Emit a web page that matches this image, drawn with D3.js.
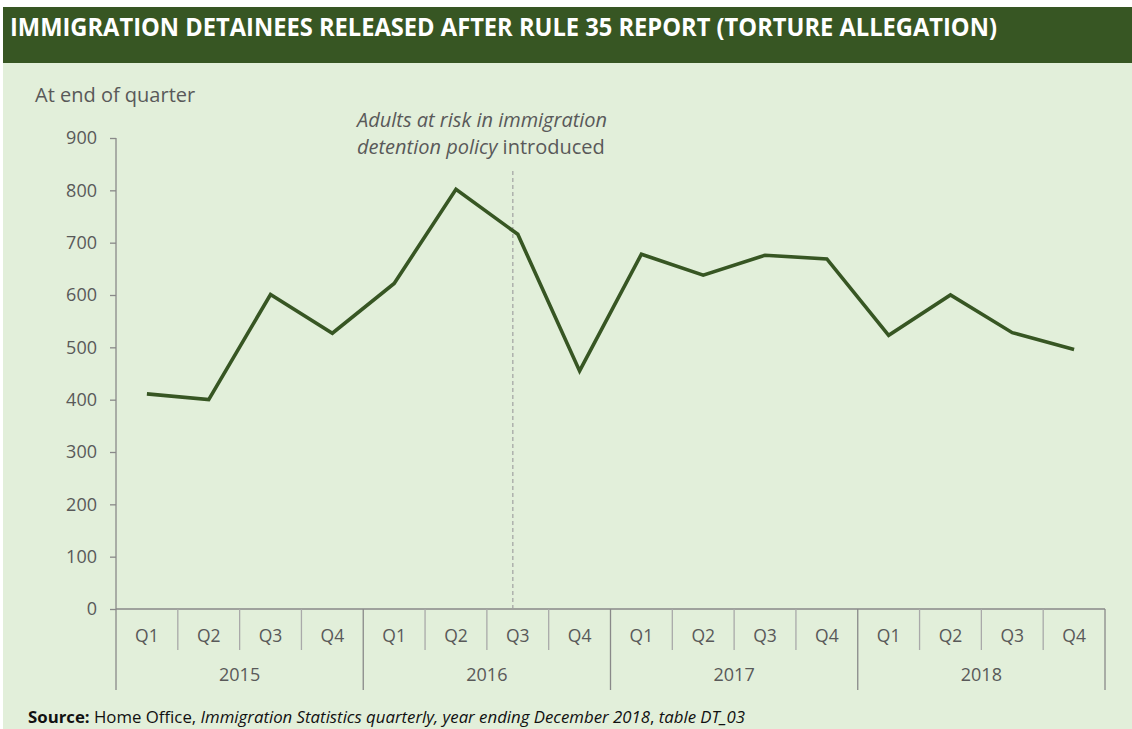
<!DOCTYPE html>
<html><head><meta charset="utf-8">
<script src="https://cdn.jsdelivr.net/npm/d3@7"></script>
<style>
html,body{margin:0;padding:0;background:#fff;}
svg{display:block;font-family:"Open Sans",sans-serif;}
</style></head>
<body>
<svg id="c" width="1132" height="729"></svg>
<script>
const years = ["2015","2016","2017","2018"];
const quarters = ["Q1","Q2","Q3","Q4"];
const values = [411,400,601,527, 622,802,716,455, 678,638,676,669, 523,600,528,496];
const yTicks = [0,100,200,300,400,500,600,700,800,900];
const policyIndex = 6.42; // position in quarter units where policy line sits
const titleText = "IMMIGRATION DETAINEES RELEASED AFTER RULE 35 REPORT (TORTURE ALLEGATION)";

const svg = d3.select("#c");
const W = 1132, H = 729;
svg.append("rect").attr("x",3).attr("y",7).attr("width",W-3).attr("height",H-7).attr("fill","#E2EFDA");
svg.append("rect").attr("x",3).attr("y",7).attr("width",W-3).attr("height",56).attr("fill","#375623");
svg.append("text").attr("x",10).attr("y",29).attr("fill","#fff")
  .attr("font-size",25).attr("font-weight",700).attr("dominant-baseline","middle")
  .attr("textLength",987).attr("lengthAdjust","spacingAndGlyphs")
  .text(titleText);

const pLeft=116, pRight=1105, pTop=138, pBottom=609;
const cats = [];
years.forEach(y=>quarters.forEach(q=>cats.push(y+" "+q)));
const x = d3.scaleBand().domain(cats).range([pLeft,pRight]).padding(0);
const xl = d3.scaleLinear().domain([0,cats.length]).range([pLeft,pRight]);
const y = d3.scaleLinear().domain([0,900]).range([pBottom,pTop]);
const grey="#898989", txt="#595959";

// y axis
const ya = svg.append("g").attr("transform",`translate(${pLeft},0)`)
  .call(d3.axisLeft(y).tickValues(yTicks).tickSize(6).tickPadding(13));
ya.select(".domain").attr("stroke",grey).attr("stroke-width",1.3).attr("d",`M-0,${pTop}V${pBottom}`);
ya.selectAll(".tick line").attr("stroke",grey).attr("stroke-width",1.3);
ya.selectAll(".tick text").attr("fill",txt).attr("font-size",18).attr("font-family","'Open Sans',sans-serif");

svg.append("text").attr("x",35).attr("y",97).attr("dominant-baseline","middle")
  .attr("fill",txt).attr("font-size",20).text("At end of quarter");

// x axis line
svg.append("line").attr("x1",pLeft).attr("x2",pRight).attr("y1",pBottom).attr("y2",pBottom)
  .attr("stroke",grey).attr("stroke-width",1.3);
// separators
for(let i=0;i<=cats.length;i++){
  const isYear = i%4===0;
  svg.append("line").attr("x1",xl(i)).attr("x2",xl(i))
    .attr("y1",pBottom).attr("y2",isYear?690:650)
    .attr("stroke",isYear?grey:"#a9a9a9").attr("stroke-width",1.3);
}
cats.forEach((c,i)=>{
  svg.append("text").attr("x",x(c)+x.bandwidth()/2).attr("y",637)
    .attr("text-anchor","middle").attr("dominant-baseline","middle")
    .attr("fill",txt).attr("font-size",17.5).text(quarters[i%4]);
});
years.forEach((yr,i)=>{
  svg.append("text").attr("x",(xl(i*4)+xl(i*4+4))/2).attr("y",676)
    .attr("text-anchor","middle").attr("dominant-baseline","middle")
    .attr("fill",txt).attr("font-size",18).text(yr);
});

// policy line
svg.append("line").attr("x1",xl(policyIndex)).attr("x2",xl(policyIndex))
  .attr("y1",171).attr("y2",pBottom).attr("stroke","#a0a0a0")
  .attr("stroke-width",1.2).attr("stroke-dasharray","4,3");
const ann = svg.append("text").attr("x",357).attr("fill",txt).attr("font-size",20);
ann.append("tspan").attr("x",357).attr("y",127).attr("font-style","italic").text("Adults at risk in immigration");
ann.append("tspan").attr("x",357).attr("y",154).attr("font-style","italic").text("detention policy");
ann.append("tspan").text(" introduced");

// line
const line = d3.line().x((d,i)=>x(cats[i])+x.bandwidth()/2).y(d=>y(d));
svg.append("path").datum(values).attr("d",line).attr("fill","none")
  .attr("stroke","#375623").attr("stroke-width",3.6).attr("stroke-linejoin","miter");

// source
const src = svg.append("text").attr("x",28).attr("y",718).attr("dominant-baseline","middle")
  .attr("fill","#111").attr("font-size",16.8).attr("font-family","'Liberation Sans Narrow','Open Sans',sans-serif");
src.append("tspan").attr("font-weight",700).text("Source:");
src.append("tspan").text(" Home Office, ");
src.append("tspan").attr("font-style","italic").text("Immigration Statistics quarterly, year ending December 2018");
src.append("tspan").text(", ");
src.append("tspan").attr("font-style","italic").text("table DT_03");
</script>
</body></html>
